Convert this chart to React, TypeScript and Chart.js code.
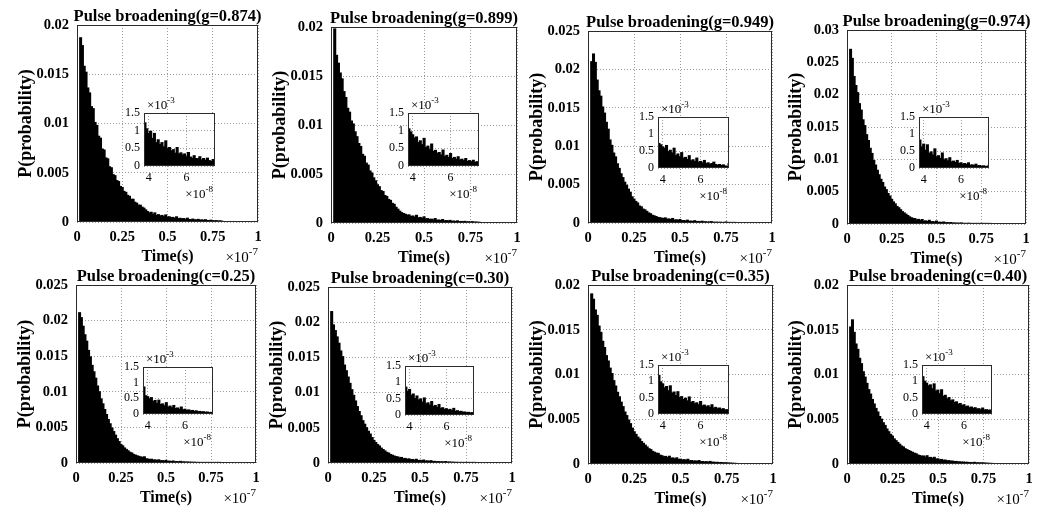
import React, { useEffect, useRef } from "react";
import { Chart, registerables } from "chart.js";

Chart.register(...registerables);

// ---------------- DATA ----------------
// Histogram bin centres (units of 1e-7 s)
const timeBins = [
  0.02, 0.03, 0.04, 0.05, 0.06, 0.07, 0.08, 0.09, 0.10, 0.11,
  0.12, 0.13, 0.14, 0.15, 0.16, 0.17, 0.18, 0.19, 0.20, 0.21,
  0.22, 0.23, 0.24, 0.25, 0.26, 0.27, 0.28, 0.29, 0.30, 0.31,
  0.32, 0.33, 0.34, 0.35, 0.36, 0.37, 0.38, 0.39, 0.40, 0.41,
  0.42, 0.43, 0.44, 0.45, 0.46, 0.47, 0.48, 0.49, 0.50, 0.51,
  0.52, 0.53, 0.54, 0.55, 0.56, 0.57, 0.58, 0.59, 0.60, 0.61,
  0.62, 0.63, 0.64, 0.65, 0.66, 0.67, 0.68, 0.69, 0.70, 0.71,
  0.72, 0.73, 0.74, 0.75, 0.76, 0.77, 0.78, 0.79, 0.80,
];

const probG0874 = [
  0.0187, 0.0179, 0.0158, 0.0152, 0.0136, 0.0131, 0.0117, 0.0115, 0.0101, 0.0098,
  0.0087, 0.0085, 0.0074, 0.0073, 0.0065, 0.0064, 0.0056, 0.0055, 0.0048, 0.0047,
  0.0042, 0.0041, 0.0036, 0.0035, 0.0031, 0.0030, 0.0027, 0.0026, 0.0023, 0.0023,
  0.0020, 0.0019, 0.0017, 0.0017, 0.0015, 0.0014, 0.00122, 0.00105, 0.00092, 0.00098,
  0.00078, 0.00092, 0.00066, 0.00074, 0.00061, 0.00066, 0.00054, 0.00071, 0.00050, 0.00052,
  0.00043, 0.00046, 0.00036, 0.00052, 0.00034, 0.00037, 0.00031, 0.00034, 0.00026, 0.00038,
  0.00025, 0.00022, 0.00029, 0.00021, 0.00020, 0.00026, 0.00017, 0.00021, 0.00016, 0.00022,
  0.00015, 0.00013, 0.00018, 0.00012, 0.00011, 0.00013, 0.00009, 0.00011, 0.00008,
];

const probG0899 = [
  0.0198, 0.0171, 0.0163, 0.0153, 0.0147, 0.0134, 0.0128, 0.0117, 0.0113, 0.0104,
  0.0101, 0.0093, 0.0088, 0.0081, 0.0078, 0.0070, 0.0068, 0.0061, 0.0059, 0.0053,
  0.0051, 0.0046, 0.0043, 0.0039, 0.0037, 0.0033, 0.0032, 0.0028, 0.0027, 0.0024,
  0.0023, 0.0020, 0.0019, 0.0016, 0.0014, 0.0012, 0.00105, 0.00096, 0.00088, 0.00079,
  0.00082, 0.00066, 0.00071, 0.00060, 0.00078, 0.00052, 0.00056, 0.00046, 0.00062, 0.00041,
  0.00044, 0.00036, 0.00038, 0.00031, 0.00045, 0.00027, 0.00030, 0.00024, 0.00035, 0.00021,
  0.00024, 0.00019, 0.00026, 0.00017, 0.00019, 0.00015, 0.00021, 0.00013, 0.00015, 0.00012,
  0.00016, 0.00010, 0.00012, 0.00009, 0.00013, 0.00008, 0.00009, 0.00007, 0.00006,
];

const probG0949 = [
  0.0210, 0.0220, 0.0209, 0.0186, 0.0172, 0.0165, 0.0151, 0.0143, 0.0131, 0.0122,
  0.0108, 0.0101, 0.0091, 0.0086, 0.0077, 0.0071, 0.0064, 0.0059, 0.0053, 0.0049,
  0.0044, 0.0040, 0.0034, 0.0031, 0.0028, 0.0026, 0.0022, 0.0021, 0.0018, 0.0017,
  0.0015, 0.0013, 0.0012, 0.0010, 0.00092, 0.00083, 0.00072, 0.00068, 0.00062, 0.00058,
  0.00066, 0.00048, 0.00052, 0.00044, 0.00058, 0.00036, 0.00041, 0.00033, 0.00045, 0.00029,
  0.00031, 0.00025, 0.00036, 0.00021, 0.00024, 0.00019, 0.00029, 0.00017, 0.00019, 0.00015,
  0.00022, 0.00013, 0.00015, 0.00011, 0.00013, 0.00017, 0.00010, 0.00008, 0.00010, 0.00007,
  0.00009, 0.00006, 0.00004, 0.00012, 0.00005, 0.00006, 0.00004, 0.00005, 0.00003,
];

const probG0974 = [
  0.0270, 0.0256, 0.0228, 0.0214, 0.0203, 0.0186, 0.0176, 0.0161, 0.0152, 0.0138,
  0.0129, 0.0117, 0.0109, 0.0098, 0.0091, 0.0083, 0.0076, 0.0069, 0.0064, 0.0057,
  0.0053, 0.0047, 0.0043, 0.0038, 0.0034, 0.0031, 0.0027, 0.0025, 0.0022, 0.0019,
  0.0017, 0.0015, 0.0013, 0.0011, 0.00095, 0.00085, 0.00082, 0.00062, 0.00070, 0.00052,
  0.00068, 0.00043, 0.00047, 0.00038, 0.00056, 0.00033, 0.00036, 0.00028, 0.00044, 0.00024,
  0.00027, 0.00021, 0.00030, 0.00018, 0.00020, 0.00016, 0.00022, 0.00013, 0.00015, 0.00011,
  0.00013, 0.00010, 0.00015, 0.00008, 0.00009, 0.00007, 0.00011, 0.00006, 0.00007, 0.00005,
  0.00006, 0.00005, 0.00004, 0.00008, 0.00003, 0.00004, 0.00003, 0.00003, 0.00002,
];

const probC025 = [
  0.0211, 0.0204, 0.0192, 0.0180, 0.0171, 0.0158, 0.0149, 0.0137, 0.0128, 0.0119,
  0.0108, 0.0100, 0.0090, 0.0083, 0.0075, 0.0068, 0.0061, 0.0055, 0.0049, 0.0044,
  0.0039, 0.0034, 0.0030, 0.0026, 0.0024, 0.0021, 0.0019, 0.0017, 0.0015, 0.0014,
  0.0012, 0.0011, 0.0010, 0.00092, 0.00084, 0.00078, 0.00086, 0.00058, 0.00055, 0.00048,
  0.00052, 0.00040, 0.00043, 0.00034, 0.00044, 0.00030, 0.00032, 0.00026, 0.00036, 0.00022,
  0.00025, 0.00020, 0.00027, 0.00017, 0.00019, 0.00015, 0.00022, 0.00013, 0.00015, 0.00011,
  0.00013, 0.00010, 0.00011, 0.00008, 0.00010, 0.00007, 0.00008, 0.00006, 0.00007, 0.00005,
  0.00006, 0.00004, 0.00005, 0.00004, 0.00003, 0.00003, 0.00002, 0.00002, 0.00001,
];

const probC030 = [
  0.0215, 0.0196, 0.0188, 0.0179, 0.0170, 0.0159, 0.0151, 0.0139, 0.0131, 0.0122,
  0.0113, 0.0104, 0.0096, 0.0088, 0.0080, 0.0073, 0.0067, 0.0060, 0.0055, 0.0050,
  0.0045, 0.0041, 0.0036, 0.0032, 0.0029, 0.0026, 0.0024, 0.0021, 0.0019, 0.0017,
  0.0015, 0.0014, 0.0012, 0.0011, 0.00098, 0.00090, 0.00085, 0.00072, 0.00078, 0.00060,
  0.00064, 0.00050, 0.00058, 0.00046, 0.00049, 0.00039, 0.00052, 0.00034, 0.00037, 0.00030,
  0.00041, 0.00026, 0.00029, 0.00023, 0.00032, 0.00020, 0.00022, 0.00017, 0.00019, 0.00015,
  0.00017, 0.00013, 0.00020, 0.00011, 0.00013, 0.00010, 0.00011, 0.00008, 0.00009, 0.00007,
  0.00008, 0.00006, 0.00007, 0.00005, 0.00005, 0.00004, 0.00004, 0.00003, 0.00002,
];

const probC035 = [
  0.0190, 0.0184, 0.0172, 0.0166, 0.0154, 0.0147, 0.0137, 0.0130, 0.0121, 0.0115,
  0.0107, 0.0101, 0.0093, 0.0087, 0.0080, 0.0075, 0.0069, 0.0064, 0.0058, 0.0054,
  0.0049, 0.0045, 0.0040, 0.0036, 0.0033, 0.0030, 0.0028, 0.0025, 0.0023, 0.0021,
  0.0019, 0.0017, 0.0016, 0.0014, 0.0013, 0.0012, 0.00118, 0.00098, 0.00092, 0.00080,
  0.00084, 0.00071, 0.00086, 0.00064, 0.00067, 0.00056, 0.00068, 0.00050, 0.00053, 0.00044,
  0.00048, 0.00040, 0.00052, 0.00035, 0.00038, 0.00031, 0.00034, 0.00028, 0.00038, 0.00025,
  0.00027, 0.00022, 0.00025, 0.00020, 0.00028, 0.00018, 0.00020, 0.00016, 0.00018, 0.00014,
  0.00016, 0.00012, 0.00013, 0.00011, 0.00010, 0.00009, 0.00008, 0.00007, 0.00006,
];

const probC040 = [
  0.0153, 0.0161, 0.0147, 0.0134, 0.0128, 0.0118, 0.0112, 0.0103, 0.0097, 0.0090,
  0.0083, 0.0078, 0.0072, 0.0067, 0.0062, 0.0058, 0.0053, 0.0050, 0.0046, 0.0043,
  0.0039, 0.0036, 0.0033, 0.0031, 0.0028, 0.0026, 0.0024, 0.0022, 0.0020, 0.0019,
  0.0017, 0.0016, 0.0015, 0.0014, 0.0013, 0.0012, 0.00114, 0.00100, 0.00094, 0.00086,
  0.00089, 0.00077, 0.00092, 0.00070, 0.00073, 0.00062, 0.00074, 0.00054, 0.00057, 0.00046,
  0.00050, 0.00040, 0.00043, 0.00035, 0.00037, 0.00030, 0.00032, 0.00026, 0.00028, 0.00022,
  0.00024, 0.00019, 0.00021, 0.00017, 0.00019, 0.00015, 0.00016, 0.00013, 0.00018, 0.00012,
  0.00013, 0.00011, 0.00012, 0.00010, 0.00009, 0.00008, 0.00007, 0.00006, 0.00005,
];

const panelTitles = [
  "Pulse broadening(g=0.874)",
  "Pulse broadening(g=0.899)",
  "Pulse broadening(g=0.949)",
  "Pulse broadening(g=0.974)",
  "Pulse broadening(c=0.25)",
  "Pulse broadening(c=0.30)",
  "Pulse broadening(c=0.35)",
  "Pulse broadening(c=0.40)",
];

const panelSeries = [
  probG0874, probG0899, probG0949, probG0974,
  probC025, probC030, probC035, probC040,
];

const yTicks020 = [0, 0.005, 0.01, 0.015, 0.02];
const yTicks025 = [0, 0.005, 0.01, 0.015, 0.02, 0.025];
const yTicks030 = [0, 0.005, 0.01, 0.015, 0.02, 0.025, 0.03];
const panelYTicks = [
  yTicks020, yTicks020, yTicks025, yTicks030,
  yTicks025, yTicks025, yTicks020, yTicks020,
];
const mainXTicks = [0, 0.25, 0.5, 0.75, 1];

// inset (zoomed view of the tail, same histogram)
const insetXRange = [0.375, 0.75];
const insetXTicks = [0.4, 0.6]; // displayed in units of 1e-8
const insetYTicks = [0, 0.0005, 0.001, 0.0015]; // displayed in units of 1e-3

// ---------------- LAYOUT ----------------
const mainBoxes = [
  { l: 77, t: 25, r: 258, b: 222 },
  { l: 331, t: 27, r: 517, b: 223 },
  { l: 588, t: 31, r: 772, b: 223 },
  { l: 847, t: 30, r: 1026, b: 224 },
  { l: 76, t: 285, r: 256, b: 463 },
  { l: 328, t: 287, r: 512, b: 463 },
  { l: 588, t: 285, r: 773, b: 464 },
  { l: 847, t: 285, r: 1029, b: 464 },
];

const insetBoxes = [
  { l: 144, t: 113, r: 215, b: 166 },
  { l: 408, t: 113, r: 479, b: 166 },
  { l: 658, t: 117, r: 729, b: 168 },
  { l: 919, t: 117, r: 989, b: 168 },
  { l: 143, t: 367, r: 213, b: 414 },
  { l: 405, t: 366, r: 474, b: 415 },
  { l: 658, t: 365, r: 729, b: 414 },
  { l: 922, t: 365, r: 992, b: 414 },
];

const MAIN_M = { l: 75, t: 30, r: 20, b: 48 };
const INSET_M = { l: 30, t: 18, r: 6, b: 38 };

const SERIF = '"Liberation Serif", "Times New Roman", Times, serif';
const GRID_COLOR = "#9a9a9a";
const BOX_COLOR = "#2b2b2b";

function fmt(v: number): string {
  return String(parseFloat(Number(v).toFixed(6)));
}

function drawPower(
  ctx: CanvasRenderingContext2D,
  xRight: number,
  yMid: number,
  exp: string,
  baseSize: number,
  supSize: number
) {
  ctx.textAlign = "right";
  ctx.textBaseline = "middle";
  ctx.font = `${supSize}px ${SERIF}`;
  const supW = ctx.measureText(exp).width;
  ctx.fillText(exp, xRight, yMid - baseSize * 0.42);
  ctx.font = `${baseSize}px ${SERIF}`;
  ctx.fillText("\u00d710", xRight - supW, yMid);
}

const mainDecor = {
  id: "mainDecor",
  afterDraw(chart: any, _args: any, opts: any) {
    const { ctx, chartArea: a } = chart;
    ctx.save();
    ctx.strokeStyle = BOX_COLOR;
    ctx.lineWidth = 1;
    ctx.strokeRect(
      Math.round(a.left) + 0.5,
      Math.round(a.top) + 0.5,
      Math.round(a.right - a.left) - 1,
      Math.round(a.bottom - a.top) - 1
    );
    const cx = (a.left + a.right) / 2;
    ctx.fillStyle = "#000";
    ctx.textAlign = "center";
    ctx.textBaseline = "alphabetic";
    ctx.font = `bold 16.5px ${SERIF}`;
    ctx.fillText(opts.title, cx, a.top - 4);
    ctx.textBaseline = "middle";
    ctx.font = `bold 16px ${SERIF}`;
    ctx.fillText("Time(s)", cx, a.bottom + 35);
    drawPower(ctx, a.right, a.bottom + 36, "-7", 15, 11);
    ctx.save();
    ctx.translate(a.left - 51, (a.top + a.bottom) / 2);
    ctx.rotate(-Math.PI / 2);
    ctx.textAlign = "center";
    ctx.textBaseline = "middle";
    ctx.font = `bold 18px ${SERIF}`;
    ctx.fillText("P(probability)", 0, 0);
    ctx.restore();
    ctx.restore();
  },
};

const insetDecor = {
  id: "insetDecor",
  beforeDraw(chart: any) {
    const { ctx, chartArea: a } = chart;
    ctx.save();
    ctx.fillStyle = "#fff";
    ctx.fillRect(a.left, a.top, a.right - a.left, a.bottom - a.top);
    ctx.restore();
  },
  afterDraw(chart: any) {
    const { ctx, chartArea: a } = chart;
    ctx.save();
    ctx.strokeStyle = BOX_COLOR;
    ctx.lineWidth = 1;
    ctx.strokeRect(
      Math.round(a.left) + 0.5,
      Math.round(a.top) + 0.5,
      Math.round(a.right - a.left) - 1,
      Math.round(a.bottom - a.top) - 1
    );
    ctx.fillStyle = "#000";
    // x10^-3 above the top-left corner
    ctx.font = `9px ${SERIF}`;
    const supW = ctx.measureText("-3").width;
    ctx.font = `13px ${SERIF}`;
    const baseW = ctx.measureText("\u00d710").width;
    drawPower(ctx, a.left + 3 + baseW + supW, a.top - 7, "-3", 13, 9);
    // x10^-8 below the bottom-right corner
    drawPower(ctx, a.right - 2, a.bottom + 29, "-8", 13, 9);
    ctx.restore();
  },
};

function histData(idx: number) {
  const s = panelSeries[idx];
  return timeBins.map((t, i) => ({ x: t, y: s[i] }));
}

function histDataset(idx: number) {
  return {
    data: histData(idx),
    backgroundColor: "#000",
    borderWidth: 0,
    barPercentage: 1,
    categoryPercentage: 1,
    inflateAmount: 0.6,
  };
}

function mainConfig(idx: number): any {
  const yt = panelYTicks[idx];
  return {
    type: "bar",
    data: { datasets: [histDataset(idx)] },
    options: {
      animation: false,
      responsive: false,
      maintainAspectRatio: false,
      devicePixelRatio: 1,
      layout: { padding: { left: 0, top: MAIN_M.t, right: MAIN_M.r, bottom: 0 } },
      plugins: {
        legend: { display: false },
        tooltip: { enabled: false },
        mainDecor: { title: panelTitles[idx] },
      },
      scales: {
        x: {
          type: "linear",
          min: 0,
          max: 1,
          offset: false,
          afterBuildTicks: (s: any) => {
            s.ticks = mainXTicks.map((v) => ({ value: v }));
          },
          afterFit: (s: any) => {
            s.height = MAIN_M.b;
          },
          grid: { color: GRID_COLOR, lineWidth: 1, drawTicks: false, offset: false },
          border: { display: false, dash: [1, 2] },
          ticks: {
            color: "#000",
            font: { family: SERIF, size: 14.5, weight: "bold" },
            padding: 7,
            maxRotation: 0,
            minRotation: 0,
            autoSkip: false,
            callback: (v: any) => fmt(v),
          },
        },
        y: {
          type: "linear",
          min: 0,
          max: yt[yt.length - 1],
          afterBuildTicks: (s: any) => {
            s.ticks = yt.map((v) => ({ value: v }));
          },
          afterFit: (s: any) => {
            s.width = MAIN_M.l;
          },
          grid: { color: GRID_COLOR, lineWidth: 1, drawTicks: false },
          border: { display: false, dash: [1, 2] },
          ticks: {
            color: "#000",
            font: { family: SERIF, size: 14.5, weight: "bold" },
            padding: 8,
            autoSkip: false,
            callback: (v: any) => fmt(v),
          },
        },
      },
    },
    plugins: [mainDecor],
  };
}

function insetConfig(idx: number): any {
  return {
    type: "bar",
    data: { datasets: [histDataset(idx)] },
    options: {
      animation: false,
      responsive: false,
      maintainAspectRatio: false,
      devicePixelRatio: 1,
      layout: { padding: { left: 0, top: INSET_M.t, right: INSET_M.r, bottom: 0 } },
      plugins: { legend: { display: false }, tooltip: { enabled: false } },
      scales: {
        x: {
          type: "linear",
          min: insetXRange[0],
          max: insetXRange[1],
          offset: false,
          afterBuildTicks: (s: any) => {
            s.ticks = insetXTicks.map((v) => ({ value: v }));
          },
          afterFit: (s: any) => {
            s.height = INSET_M.b;
          },
          grid: { color: GRID_COLOR, lineWidth: 1, drawTicks: false, offset: false },
          border: { display: false, dash: [1, 2] },
          ticks: {
            color: "#000",
            font: { family: SERIF, size: 12 },
            padding: 5,
            maxRotation: 0,
            minRotation: 0,
            autoSkip: false,
            callback: (v: any) => fmt(Number(v) * 10),
          },
        },
        y: {
          type: "linear",
          min: 0,
          max: insetYTicks[insetYTicks.length - 1],
          afterBuildTicks: (s: any) => {
            s.ticks = insetYTicks.map((v) => ({ value: v }));
          },
          afterFit: (s: any) => {
            s.width = INSET_M.l;
          },
          grid: { color: GRID_COLOR, lineWidth: 1, drawTicks: false },
          border: { display: false, dash: [1, 2] },
          ticks: {
            color: "#000",
            font: { family: SERIF, size: 12 },
            padding: 4,
            autoSkip: false,
            callback: (v: any) => fmt(Number(v) * 1000),
          },
        },
      },
    },
    plugins: [insetDecor],
  };
}

function Panel({ idx }: { idx: number }) {
  const mainRef = useRef<HTMLCanvasElement>(null);
  const insetRef = useRef<HTMLCanvasElement>(null);
  const mb = mainBoxes[idx];
  const ib = insetBoxes[idx];
  const mW = mb.r - mb.l + MAIN_M.l + MAIN_M.r;
  const mH = mb.b - mb.t + MAIN_M.t + MAIN_M.b;
  const iW = ib.r - ib.l + INSET_M.l + INSET_M.r;
  const iH = ib.b - ib.t + INSET_M.t + INSET_M.b;

  useEffect(() => {
    const c1 = new Chart(mainRef.current as HTMLCanvasElement, mainConfig(idx));
    const c2 = new Chart(insetRef.current as HTMLCanvasElement, insetConfig(idx));
    return () => {
      c1.destroy();
      c2.destroy();
    };
  }, [idx]);

  return (
    <>
      <canvas
        ref={mainRef}
        width={mW}
        height={mH}
        style={{
          position: "absolute",
          left: mb.l - MAIN_M.l,
          top: mb.t - MAIN_M.t,
          width: mW,
          height: mH,
        }}
      />
      <canvas
        ref={insetRef}
        width={iW}
        height={iH}
        style={{
          position: "absolute",
          left: ib.l - INSET_M.l,
          top: ib.t - INSET_M.t,
          width: iW,
          height: iH,
        }}
      />
    </>
  );
}

export default function App() {
  return (
    <div
      style={{
        position: "absolute",
        left: 0,
        top: 0,
        width: 1042,
        height: 508,
        background: "#fff",
        overflow: "hidden",
      }}
    >
      {panelTitles.map((_, i) => (
        <Panel key={i} idx={i} />
      ))}
    </div>
  );
}
